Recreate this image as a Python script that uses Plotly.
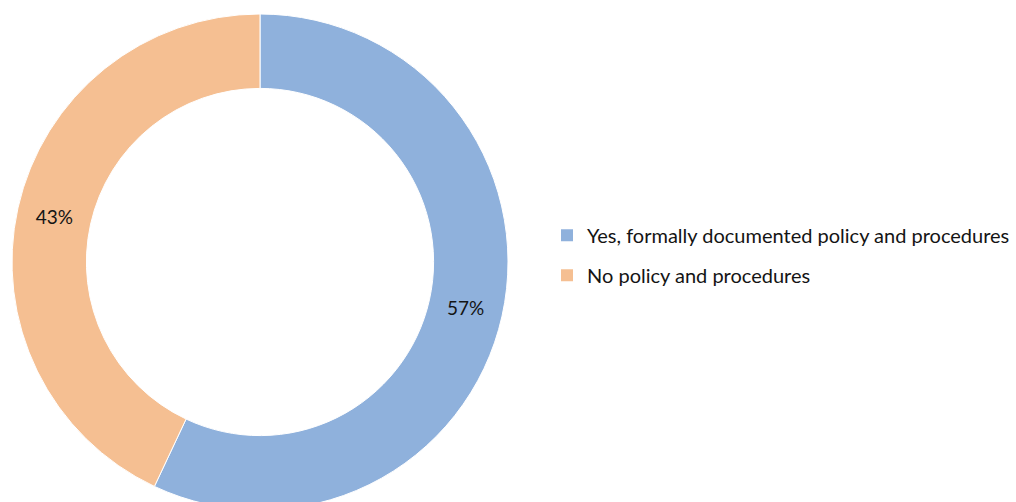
import plotly.graph_objects as go

# Survey responses: share of organisations with a documented policy
labels = ["Yes, formally documented policy and procedures", "No policy and procedures"]
values = [57, 43]
colors = ["#8FB1DC", "#F5BF92"]

W, H = 1016, 522
TOP, BOTTOM = 14, 12
FAMILY = "Lato, 'Open Sans', sans-serif"
TEXT_COLOR = "#141414"
LEGEND_FONT = dict(family=FAMILY, size=20, color=TEXT_COLOR)
SLICE_FONT = dict(family=FAMILY, size=19, color=TEXT_COLOR)

fig = go.Figure()

fig.add_trace(go.Pie(
    labels=labels,
    values=values,
    hole=0.70,
    sort=False,
    direction="clockwise",
    rotation=0,
    marker=dict(colors=colors, line=dict(color="white", width=1)),
    texttemplate="%{value}%",
    textposition="inside",
    insidetextorientation="horizontal",
    textfont=SLICE_FONT,
    domain=dict(x=[12 / W, 508 / W], y=[0, 1]),
    showlegend=False,
    hoverinfo="label+percent",
))

# Legend entries as square markers so the item spacing can be controlled
for i, (lab, col) in enumerate(zip(labels, colors)):
    fig.add_trace(go.Scatter(
        x=[None], y=[None],
        mode="markers",
        marker=dict(symbol="square", size=12, color=col),
        name=lab,
        legendgroup=f"g{i}",
        showlegend=True,
    ))

fig.update_layout(
    width=W,
    height=H,
    margin=dict(l=0, r=0, t=TOP, b=BOTTOM),
    paper_bgcolor="white",
    plot_bgcolor="white",
    font=LEGEND_FONT,
    xaxis=dict(visible=False, domain=[0.9, 1.0]),
    yaxis=dict(visible=False),
    legend=dict(
        x=547 / W,
        xanchor="left",
        y=0.593,
        yanchor="top",
        font=LEGEND_FONT,
        tracegroupgap=11,
        bgcolor="rgba(0,0,0,0)",
    ),
)

fig.write_html(
    "out.html",
    post_script="document.body.style.margin='0';"
                "document.body.style.overflow='hidden';"
                "document.documentElement.style.overflow='hidden';",
)
